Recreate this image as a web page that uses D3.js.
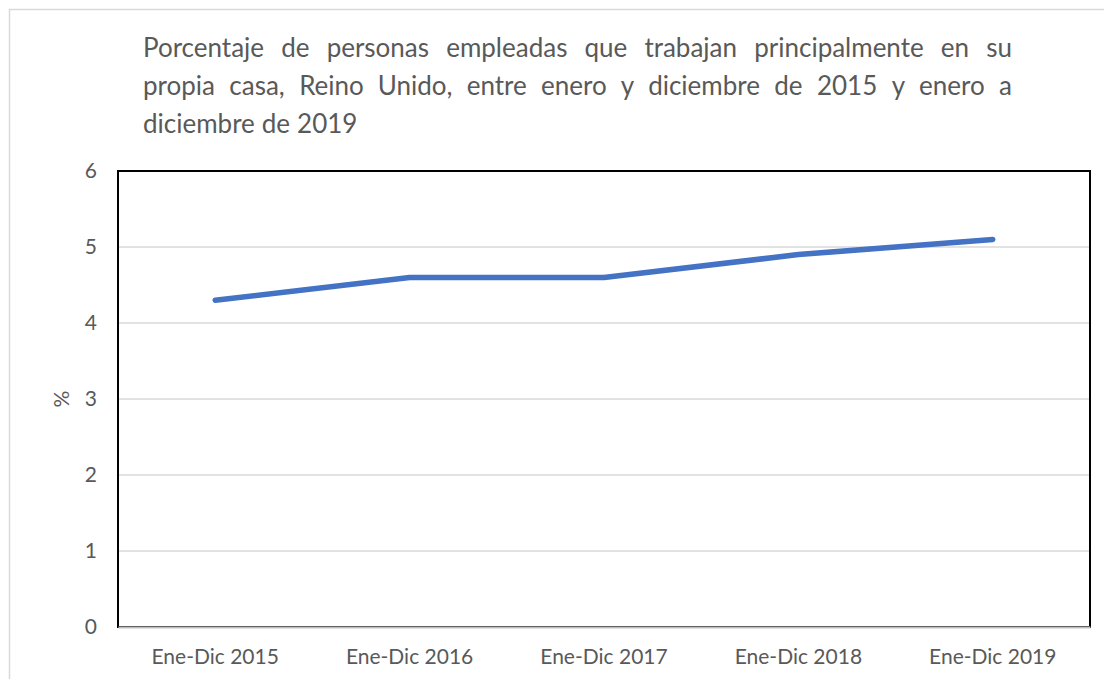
<!DOCTYPE html>
<html>
  <head>
    <meta charset="utf-8" />
    <title>Personas que trabajan en su propia casa</title>
    <script src="https://d3js.org/d3.v7.min.js"></script>
    <style>
      body { margin: 0; background: #fff; }
      svg text { font-family: Lato, "Open Sans", sans-serif; fill: #595959; }
      .grid line { stroke: #d9d9d9; stroke-width: 1.5; }
      .tick text { font-size: 21px; }
    </style>
  </head>
  <body>
    <svg width="1104" height="679"></svg>
    <script>
      const categories = ["Ene-Dic 2015", "Ene-Dic 2016", "Ene-Dic 2017", "Ene-Dic 2018", "Ene-Dic 2019"];
      const values = [4.3, 4.6, 4.6, 4.9, 5.1];
      const yTicks = [0, 1, 2, 3, 4, 5, 6];
      const titleLines = [
        "Porcentaje de personas empleadas que trabajan principalmente en su",
        "propia casa, Reino Unido, entre enero y diciembre de 2015 y enero a",
        "diciembre de 2019"
      ];

      const svg = d3.select("svg");
      const margin = { top: 171, right: 14, bottom: 52, left: 118 };
      const width = 1104 - margin.left - margin.right;
      const height = 679 - margin.top - margin.bottom;

      // outer chart border (top and left only visible)
      svg.append("path")
        .attr("d", "M9.5,679V9.5H1104")
        .attr("fill", "none")
        .attr("stroke", "#d9d9d9")
        .attr("stroke-width", 1.5);

      // title, justified like the original
      const titleLeft = 143, titleRight = 1012;
      const title = svg.append("g");
      titleLines.forEach((line, i) => {
        const words = line.split(" ");
        const t = title.append("text")
          .attr("y", 57 + i * 38)
          .style("font-size", "26px");
        const spans = words.map(w => t.append("tspan").text(w));
        const widths = spans.map(s => s.node().getComputedTextLength());
        const total = d3.sum(widths);
        const justify = i < titleLines.length - 1;
        const gap = justify ? (titleRight - titleLeft - total) / (words.length - 1) : 7;
        let x = titleLeft;
        spans.forEach((s, j) => {
          s.attr("x", x);
          x += widths[j] + gap;
        });
      });

      const g = svg.append("g")
        .attr("transform", "translate(" + margin.left + "," + margin.top + ")");

      const x = d3.scaleBand().domain(categories).range([0, width]);
      const y = d3.scaleLinear().domain([0, 6]).range([height, 0]);

      // gridlines
      g.append("g")
        .attr("class", "grid")
        .selectAll("line")
        .data(yTicks.slice(1))
        .join("line")
        .attr("x1", 0)
        .attr("x2", width)
        .attr("y1", d => y(d))
        .attr("y2", d => y(d));

      // plot area border
      g.append("rect")
        .attr("width", width)
        .attr("height", height)
        .attr("fill", "none")
        .attr("stroke", "#000")
        .attr("stroke-width", 2);

      // y axis
      const yAxis = g.append("g")
        .call(d3.axisLeft(y).tickValues(yTicks).tickFormat(d3.format("d")).tickSize(0).tickPadding(21));
      yAxis.select(".domain").remove();

      // x axis
      const xAxis = g.append("g")
        .attr("transform", "translate(0," + height + ")")
        .call(d3.axisBottom(x).tickSize(0).tickPadding(22));
      xAxis.select(".domain")
        .attr("stroke", "#bfbfbf")
        .attr("stroke-width", 2);

      // y label
      g.append("text")
        .attr("transform", "translate(-56," + y(3) + ") rotate(-90)")
        .attr("text-anchor", "middle")
        .attr("dy", "0.35em")
        .style("font-size", "21px")
        .text("%");

      // the line
      const line = d3.line()
        .x((d, i) => x(categories[i]) + x.bandwidth() / 2)
        .y(d => y(d));

      g.append("path")
        .datum(values)
        .attr("fill", "none")
        .attr("stroke", "#4472c4")
        .attr("stroke-width", 5.5)
        .attr("stroke-linecap", "round")
        .attr("stroke-linejoin", "round")
        .attr("d", line);
    </script>
  </body>
</html>
